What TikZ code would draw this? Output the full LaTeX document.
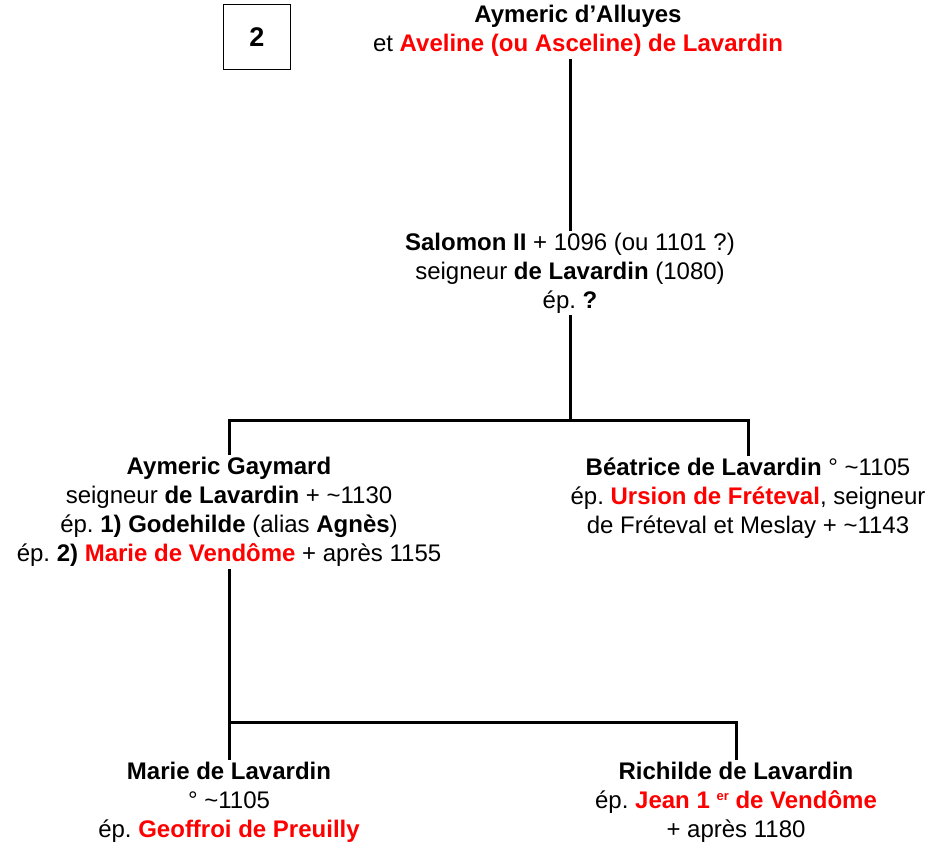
\documentclass[tikz,border=0pt]{standalone}
\usepackage{fontspec}
\setmainfont{Liberation Sans}
\usetikzlibrary{positioning}
\definecolor{rouge}{RGB}{255,0,0}
\frenchspacing
\tikzset{
  person/.style={align=center, inner sep=2pt, font=\fontsize{24}{29}\selectfont},
  link/.style={line width=3pt},
}
\newcommand{\rg}[1]{\textcolor{rouge}{\textbf{#1}}}
\newcommand{\tld}{\textasciitilde}
\newcommand{\supr}[1]{\raisebox{8pt}{\fontsize{13}{13}\selectfont #1}}

\begin{document}
\begin{tikzpicture}[x=1pt,y=-1pt]
  \useasboundingbox (0,0) rectangle (934,847);
  % Number box
  \node[draw, line width=1pt, minimum width=67pt, minimum height=65pt,
        font=\fontsize{27}{27}\selectfont\bfseries] (num) at (257,37) {2};
  % Generations
  \node[person] (parents) at (578,31)
    {\textbf{Aymeric d’Alluyes}\\ et \rg{Aveline (ou Asceline) de Lavardin}};
  \node[person] (salomon) at (570,273)
    {\textbf{Salomon II} + 1096 (ou 1101 ?)\\ seigneur \textbf{de Lavardin} (1080)\\ ép. \textbf{?}};
  \node[person] (aymeric) at (229,512)
    {\textbf{Aymeric Gaymard}\\ seigneur \textbf{de Lavardin} + \tld1130\\
     ép. \textbf{1) Godehilde} (alias \textbf{Agnès})\\
     ép. \textbf{2)} \rg{Marie de Vendôme} + après 1155};
  \node[person] (beatrice) at (748,498)
    {\textbf{Béatrice de Lavardin} ° \tld1105\\
     ép. \rg{Ursion de Fréteval}, seigneur\\ de Fréteval et Meslay + \tld1143};
  \node[person] (marie) at (229,802)
    {\textbf{Marie de Lavardin}\\ ° \tld1105\\ ép. \rg{Geoffroi de Preuilly}};
  \node[person] (richilde) at (736,802)
    {\textbf{Richilde de Lavardin}\\ ép. \rg{Jean 1 \supr{er} de Vendôme}\\ + après 1180};
  % Connectors
  \coordinate (fork1) at (570,420);
  \coordinate (fork2) at (229,722);
  \draw[link] (salomon.north |- parents.south) -- (salomon.north);
  \draw[link] (salomon.south) -- (fork1);
  \draw[link] (aymeric.north) |- (fork1) -| (beatrice.north);
  \draw[link] (aymeric.south) -- (marie.north);
  \draw[link] (fork2) -| (richilde.north);
\end{tikzpicture}
\end{document}
